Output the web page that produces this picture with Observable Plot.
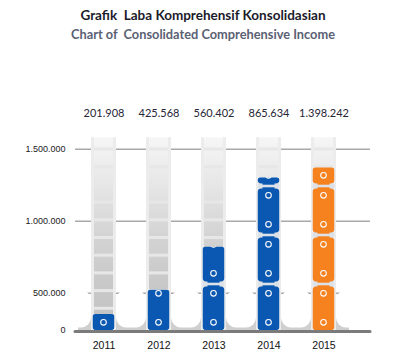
<!DOCTYPE html>
<html>
<head>
<meta charset="utf-8">
<script src="https://cdn.jsdelivr.net/npm/d3@7"></script>
<script src="https://cdn.jsdelivr.net/npm/@observablehq/plot@0.6"></script>
<style>
  html, body { margin: 0; padding: 0; background: #fff; }
  body { width: 398px; height: 362px; overflow: hidden; position: relative; }
  #title { position: absolute; top: 7px; left: 4px; width: 398px; text-align: center;
           font: bold 13.5px Lato, "Open Sans", sans-serif; color: #1b1b2b; }
  #subtitle { position: absolute; top: 26px; left: 4px; width: 398px; text-align: center;
           font: bold 12.8px Lato, "Open Sans", sans-serif; color: #5a6174; }
  #chart { position: absolute; top: 50px; left: 0; }
</style>
</head>
<body>
<div id="title">Grafik&nbsp; Laba Komprehensif Konsolidasian</div>
<div id="subtitle">Chart of&nbsp; Consolidated Comprehensive Income</div>
<div id="chart"></div>
<script>
// ---- data ----
const years = ["2011", "2012", "2013", "2014", "2015"];
const valueLabels = ["201.908", "425.568", "560.402", "865.634", "1.398.242"];
// bar tops as read against the (non-linear) axis of the picture
const barHeights = [215000, 520000, 820000, 1300000, 1370000];
const yTicks = [0, 500000, 1000000, 1500000];
const yTickLabels = ["0", "500.000", "1.000.000", "1.500.000"];
const tubeTop = 1580000;
const highlightYear = "2015";

const data = years.map((year, i) => ({year, value: barHeights[i], label: valueLabels[i]}));

// the picture's axis is compressed below 500.000 (first step about half as tall)
const firstStepRatio = 37.3 / 72;
const axisTransform = v => v <= yTicks[1] ? v * firstStepRatio : v - yTicks[1] * (1 - firstStepRatio);

const NS = "http://www.w3.org/2000/svg";
function el(tag, attrs, parent) {
  const e = document.createElementNS(NS, tag);
  for (const k in attrs) e.setAttribute(k, attrs[k]);
  if (parent) parent.appendChild(e);
  return e;
}

const blue = "#0b58b2";
const orange = "#f5821f";

// defs: gradients and patterns, aligned with the scales
function defsMark(index, scales) {
  const x = scales.x, y = scales.y;
  const x0 = x(years[0]);
  const step = x.bandwidth();
  const y0 = y(0);
  const defs = el("defs", {});
  const tg = el("linearGradient", {id: "tubeGrad", x1: 0, y1: 0, x2: 0, y2: 1}, defs);
  [[0, "#f6f6f6"], [0.25, "#e6e6e6"], [0.5, "#d4d4d4"], [0.75, "#c9c9c9"], [1, "#c2c2c2"]]
    .forEach(([o, c]) => el("stop", {offset: o, "stop-color": c}, tg));
  const rg = el("linearGradient", {id: "rails", x1: 0, y1: 0, x2: 1, y2: 0}, defs);
  [[0, "#ececec", 1], [0.12, "#ececec", 1], [0.121, "#ececec", 0], [0.879, "#ececec", 0], [0.88, "#ececec", 1], [1, "#ececec", 1]]
    .forEach(([o, c, a]) => el("stop", {offset: o, "stop-color": c, "stop-opacity": a}, rg));
  const rungStep = 17.7;
  const rp = el("pattern", {id: "rungs", patternUnits: "userSpaceOnUse", x: 0, y: y0 - 21.7 - 1.5, width: 10, height: rungStep}, defs);
  el("rect", {x: 0, y: 0, width: 10, height: 3, fill: "#e7e7e7"}, rp);
  const cellStep = 49;
  for (const [id, col] of [["cellsBlue", blue], ["cellsOrange", orange]]) {
    const p = el("pattern", {id, patternUnits: "userSpaceOnUse", x: x0, y: y0 - 46, width: step, height: cellStep}, defs);
    const cx = step / 2;
    el("rect", {x: cx - 11, y: 0, width: 22, height: 2.5, fill: "#dde1e8"}, p);
    el("rect", {x: cx - 11, y: cellStep - 2.5, width: 22, height: 2.5, fill: "#dde1e8"}, p);
    el("rect", {x: cx - 11, y: 2.5, width: 22, height: 44, rx: 4, fill: col}, p);
    el("rect", {x: cx - 6, y: 1.3, width: 12, height: 3, fill: col}, p);
    el("rect", {x: cx - 6, y: cellStep - 4.3, width: 12, height: 3, fill: col}, p);
    el("circle", {cx, cy: 9.3, r: 2.8, fill: "none", stroke: "#fff", "stroke-width": 1.1}, p);
    el("circle", {cx, cy: 38.3, r: 2.8, fill: "none", stroke: "#fff", "stroke-width": 1.1}, p);
  }
  return defs;
}

// base of the tubes with rounded fillets
function baseMark(index, scales) {
  const x = scales.x, y = scales.y;
  const bw = x.bandwidth();
  const y0 = y(0);
  const g = el("g", {});
  const tubes = years.map(yr => [x(yr) + 15, x(yr) + bw - 15]);
  el("rect", {x: tubes[0][0] - 13, y: y0 - 14, width: tubes[tubes.length - 1][1] - tubes[0][0] + 26, height: 14, fill: "#cfcfcf"}, g);
  for (let i = 0; i <= tubes.length; i++) {
    const left = i === 0 ? tubes[0][0] - 60 : tubes[i - 1][1];
    const right = i === tubes.length ? tubes[tubes.length - 1][1] + 60 : tubes[i][0];
    el("rect", {x: left, y: y0 - 40, width: right - left, height: 37.5, rx: 10, fill: "#fff"}, g);
  }
  return g;
}

const plot = Plot.plot({
  width: 398,
  height: 312,
  marginLeft: 75,
  marginRight: 28,
  marginTop: 63,
  marginBottom: 32,
  style: {fontFamily: "'Liberation Sans', Arial, sans-serif", background: "#fff", color: "#222"},
  x: {type: "band", domain: years, range: [75.5, 350.5], padding: 0},
  y: {transform: axisTransform, range: [280, 87.3], nice: false, zero: true},
  marks: [
    defsMark,
    Plot.ruleY(yTicks.slice(1), {stroke: "#a9a9a9", strokeWidth: 1.6}),
    baseMark,
    Plot.barY(data, {x: "year", y1: 0, y2: tubeTop, fill: "url(#tubeGrad)", insetLeft: 15, insetRight: 15}),
    Plot.barY(data, {x: "year", y1: 0, y2: tubeTop, fill: "url(#rungs)", insetLeft: 15, insetRight: 15}),
    Plot.barY(data, {x: "year", y1: 0, y2: tubeTop, fill: "url(#rails)", insetLeft: 15, insetRight: 15}),
    Plot.barY(data.filter(d => d.year !== highlightYear), {x: "year", y: "value", fill: "url(#cellsBlue)", insetLeft: 16.5, insetRight: 16.5, rx: 3}),
    Plot.barY(data.filter(d => d.year === highlightYear), {x: "year", y: "value", fill: "url(#cellsOrange)", insetLeft: 16.5, insetRight: 16.5, rx: 3}),
    Plot.ruleY([0], {stroke: "#7b7b7b", strokeWidth: 3, strokeLinecap: "round", dy: 1}),
    Plot.text(data, {x: "year", text: "label", frameAnchor: "top", lineAnchor: "middle", fontSize: 11, fill: "#262636", fontFamily: "Lato, 'Open Sans', sans-serif"}),
    Plot.axisY(yTicks, {label: null, tickSize: 0, tickPadding: 10, fontSize: 9, tickFormat: d => yTickLabels[yTicks.indexOf(d)], fill: "#1a1a1a", letterSpacing: "-0.4px"}),
    Plot.axisX({label: null, tickSize: 0, tickPadding: 11, fontSize: 10.5, fill: "#111"})
  ]
});
document.getElementById("chart").appendChild(plot);
</script>
</body>
</html>
